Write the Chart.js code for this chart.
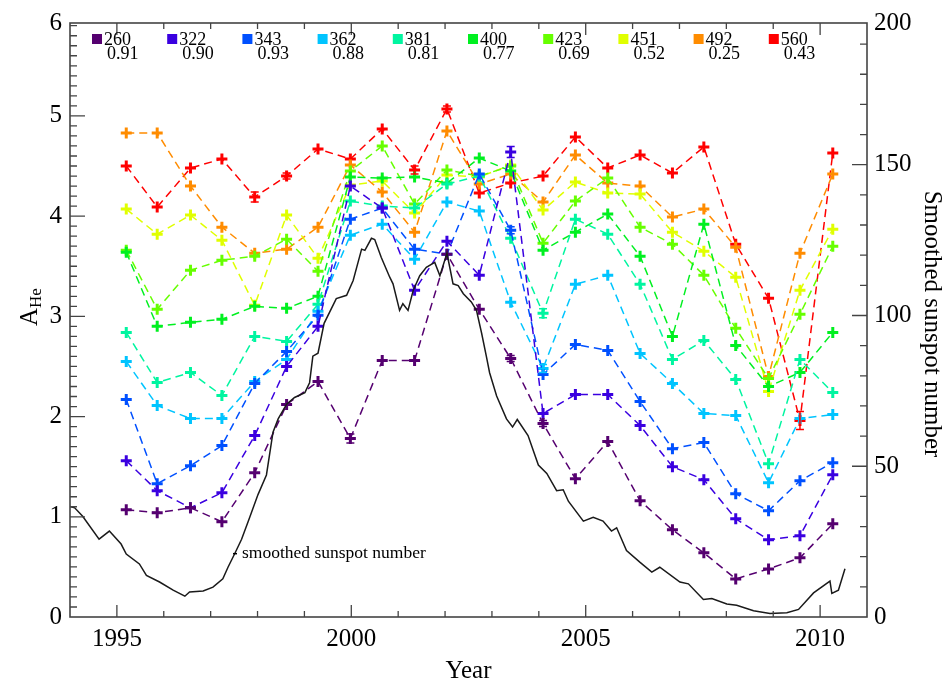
<!DOCTYPE html>
<html><head><meta charset="utf-8">
<script src="https://cdn.jsdelivr.net/npm/chart.js@4.4.1/dist/chart.umd.min.js"></script>
<style>html,body{margin:0;padding:0;background:#fff;}#wrap{width:945px;height:688px;position:relative;}</style>
</head><body><div id="wrap"><canvas id="c" width="945" height="688"></canvas></div>
<script>
// ---------- data ----------
const obsYears = [1995.20,1995.86,1996.57,1997.24,1997.94,1998.62,1999.29,1999.98,2000.66,2001.35,2002.04,2002.73,2003.40,2004.09,2004.78,2005.47,2006.16,2006.85,2007.52,2008.20,2008.90,2009.57,2010.27];
const wavelengths = ['260','322','343','362','381','400','423','451','492','560'];
const correlations = ['0.91','0.90','0.93','0.88','0.81','0.77','0.69','0.52','0.25','0.43'];
const seriesColors = ['#550070','#3a00e0','#0050ff','#00c4ff','#00f5a0','#00f020','#66ff00','#e0ff00','#ff8c00','#ff0000'];
const a260 = [1.07,1.04,1.09,0.95,1.44,2.12,2.35,1.78,2.56,2.56,3.62,3.07,2.58,1.93,1.38,1.75,1.16,0.87,0.64,0.38,0.48,0.59,0.93];
const a322 = [1.56,1.26,1.09,1.24,1.81,2.50,2.90,4.30,4.08,3.26,3.75,3.41,4.64,2.03,2.22,2.22,1.91,1.50,1.37,0.98,0.77,0.81,1.42];
const a343 = [2.17,1.33,1.51,1.71,2.33,2.65,3.01,3.97,4.08,3.67,3.62,4.42,3.86,2.42,2.72,2.66,2.15,1.68,1.74,1.23,1.06,1.36,1.54];
const a362 = [2.55,2.11,1.98,1.98,2.35,2.57,3.05,3.81,3.92,3.57,4.14,4.05,3.14,2.48,3.32,3.41,2.63,2.33,2.03,2.01,1.34,1.98,2.02];
const a381 = [2.84,2.34,2.44,2.21,2.80,2.75,3.12,4.15,4.10,4.08,4.32,4.40,3.78,3.03,3.97,3.82,3.32,2.57,2.76,2.37,1.53,2.57,2.24];
const a400 = [3.64,2.90,2.94,2.97,3.10,3.08,3.20,4.39,4.38,4.39,4.33,4.58,4.45,3.66,3.84,4.02,3.60,2.80,3.92,2.71,2.30,2.44,2.84];
const a423 = [3.66,3.07,3.46,3.56,3.60,3.77,3.45,4.45,4.70,4.12,4.46,4.40,4.50,3.73,4.15,4.38,3.89,3.72,3.41,2.88,2.38,3.02,3.70];
const a451 = [4.07,3.82,4.01,3.76,3.11,4.01,3.58,4.31,4.35,4.03,4.41,4.39,4.51,4.06,4.34,4.23,4.22,3.84,3.65,3.39,2.25,3.26,3.87];
const a492 = [4.83,4.83,4.30,3.89,3.63,3.67,3.89,4.51,4.24,3.84,4.85,4.32,4.42,4.14,4.61,4.33,4.30,3.99,4.07,3.69,2.40,3.63,4.42];
const a560 = [4.50,4.09,4.48,4.57,4.19,4.40,4.67,4.57,4.87,4.46,5.07,4.23,4.33,4.40,4.79,4.48,4.61,4.43,4.69,3.72,3.18,1.96,4.63];
const seriesValues = [a260,a322,a343,a362,a381,a400,a423,a451,a492,a560];
// visible error bars: [series index, point index, half-length]
const errorBars = [[9,4,0.05],[9,5,0.03],[9,9,0.04],[9,10,0.03],[9,21,0.09],[1,12,0.055],[2,12,0.035],[4,13,0.045],[3,13,0.04],[0,7,0.045],[0,13,0.03],[0,12,0.03]];
const sunYears = [1994.00,1994.10,1994.27,1994.62,1994.84,1995.09,1995.20,1995.48,1995.63,1995.91,1996.20,1996.45,1996.55,1996.84,1997.05,1997.26,1997.37,1997.51,1997.66,1997.83,1998.01,1998.19,1998.33,1998.44,1998.62,1998.79,1999.01,1999.11,1999.18,1999.29,1999.42,1999.68,1999.90,2000.04,2000.22,2000.29,2000.43,2000.50,2000.64,2000.82,2000.89,2001.03,2001.10,2001.21,2001.32,2001.46,2001.60,2001.78,2001.89,2002.04,2002.10,2002.17,2002.28,2002.39,2002.56,2002.67,2002.78,2002.88,2002.95,2003.10,2003.31,2003.44,2003.54,2003.77,2003.99,2004.17,2004.38,2004.52,2004.63,2004.95,2005.16,2005.37,2005.55,2005.66,2005.87,2006.16,2006.41,2006.58,2007.01,2007.19,2007.51,2007.69,2008.01,2008.22,2008.58,2008.93,2009.29,2009.54,2009.86,2010.21,2010.25,2010.39,2010.53];
const sunNumbers = [36.7,36.2,33.4,25.8,28.5,24.2,20.9,17.6,13.8,11.6,8.9,6.9,8.3,8.6,9.9,12.7,16.5,20.9,25.8,32.9,40.6,47.1,61.3,65.7,70.6,72.8,74.4,77.7,86.5,87.5,97.4,105.6,106.7,111.6,122.0,121.6,125.6,125.2,119.2,112.7,110.5,101.7,103.9,101.7,108.3,113.2,116.0,117.6,113.2,120.6,116.0,110.5,109.9,107.2,104.5,101.7,94.1,86.5,81.0,73.3,65.7,63.0,65.5,60.2,50.4,47.6,41.9,42.2,38.4,31.8,33.1,31.8,28.5,29.6,22.0,18.1,14.9,16.5,11.6,11.0,5.8,6.1,4.3,3.9,2.1,1.2,1.4,2.5,8.0,11.9,7.8,8.9,16.0];
const sunAnnotation = {year: 1997.52, value: 21, text: 'smoothed sunspot number'};
const xTickValues = [1995,2000,2005,2010];
const xTickLabels = ['1995','2000','2005','2010'];
const leftTickValues = [0,1,2,3,4,5,5.927];
const leftTickLabels = ['0','1','2','3','4','5','6'];
const rightTickValues = [0,50,100,150,197];
const rightTickLabels = ['0','50','100','150','200'];

// ---------- drawing ----------
const SERIF = "'Liberation Serif','Times New Roman',serif";
const AXC = '#444';

const datasets = [{
  label: 'sunspot', yAxisID: 'y2',
  data: sunYears.map((x,i)=>({x, y: sunNumbers[i]})),
  borderColor: '#1a1a1a', borderWidth: 1.5, pointRadius: 0, tension: 0, fill: false
}];
seriesValues.forEach((arr, k) => {
  datasets.push({
    label: wavelengths[k], yAxisID: 'y',
    data: obsYears.map((x,i)=>({x, y: arr[i]})),
    borderColor: seriesColors[k], backgroundColor: seriesColors[k],
    borderWidth: 1.5, borderDash: [8,5],
    pointStyle: 'cross', pointRadius: 5.5, pointBorderWidth: 3,
    pointBorderColor: seriesColors[k], tension: 0, fill: false
  });
});

const framePlugin = {
  id: 'frame',
  afterDatasetsDraw(chart) {
    const {ctx, chartArea: a, scales} = chart;
    ctx.save();
    errorBars.forEach(([si, pi, e]) => {
      const v = seriesValues[si][pi];
      const x = scales.x.getPixelForValue(obsYears[pi]);
      const y1 = scales.y.getPixelForValue(v + e), y2 = scales.y.getPixelForValue(v - e);
      ctx.strokeStyle = seriesColors[si]; ctx.lineWidth = 1.5;
      ctx.beginPath();
      ctx.moveTo(x, y1); ctx.lineTo(x, y2);
      ctx.moveTo(x-4, y1); ctx.lineTo(x+4, y1);
      ctx.moveTo(x-4, y2); ctx.lineTo(x+4, y2);
      ctx.stroke();
    });
    ctx.strokeStyle = AXC; ctx.lineWidth = 1.6;
    ctx.strokeRect(a.left, a.top, a.right - a.left, a.bottom - a.top);
    ctx.lineWidth = 1.3;
    ctx.beginPath();
    for (let k = 1; k < 60; k++) {
      const y = scales.y.getPixelForValue(k/10);
      if (y < a.top + 1) continue;
      const len = k % 10 === 0 ? 15 : 7;
      ctx.moveTo(a.left, y); ctx.lineTo(a.left + len, y);
    }
    for (let k = 1; k < 20; k++) {
      const y = scales.y2.getPixelForValue(k*10);
      if (y < a.top + 1) continue;
      const len = k % 5 === 0 ? 15 : 7;
      ctx.moveTo(a.right, y); ctx.lineTo(a.right - len, y);
    }
    for (let yr = 1995; yr <= 2010; yr++) {
      const x = scales.x.getPixelForValue(yr);
      const len = yr % 5 === 0 ? 12 : 6;
      ctx.moveTo(x, a.bottom); ctx.lineTo(x, a.bottom - len);
      ctx.moveTo(x, a.top); ctx.lineTo(x, a.top + len);
    }
    ctx.stroke();
    // legend
    ctx.textBaseline = 'alphabetic';
    ctx.font = '18px ' + SERIF;
    for (let i = 0; i < wavelengths.length; i++) {
      const x0 = 92 + i * 75.2;
      ctx.fillStyle = seriesColors[i];
      ctx.fillRect(x0, 34, 10, 10);
      ctx.fillStyle = '#000';
      ctx.textAlign = 'left';
      ctx.fillText(wavelengths[i], x0 + 12, 45);
      ctx.fillText(correlations[i], x0 + 15, 59);
    }
    // sunspot annotation
    const ax = scales.x.getPixelForValue(sunAnnotation.year);
    const ay = scales.y2.getPixelForValue(sunAnnotation.value);
    ctx.strokeStyle = '#000'; ctx.lineWidth = 1.5;
    ctx.beginPath(); ctx.moveTo(ax - 2, ay); ctx.lineTo(ax + 2, ay); ctx.stroke();
    ctx.font = '17.5px ' + SERIF;
    ctx.textBaseline = 'middle';
    ctx.fillText(sunAnnotation.text, ax + 7, ay);
    // axis titles
    ctx.font = '25px ' + SERIF;
    ctx.save();
    ctx.translate(932, (a.top + a.bottom) / 2 + 4);
    ctx.rotate(Math.PI / 2);
    ctx.textAlign = 'center'; ctx.textBaseline = 'middle';
    ctx.fillText('Smoothed sunspot number', 0, 0);
    ctx.restore();
    ctx.save();
    ctx.translate(30, 312);
    ctx.rotate(-Math.PI / 2);
    ctx.textAlign = 'left'; ctx.textBaseline = 'middle';
    ctx.font = '25px ' + SERIF;
    const wA = ctx.measureText('A').width;
    ctx.fillText('A', -14, 0);
    ctx.font = '17px ' + SERIF;
    ctx.fillText('He', -14 + wA, 7);
    ctx.restore();
    ctx.restore();
  }
};

new Chart(document.getElementById('c'), {
  type: 'line',
  data: { datasets },
  plugins: [framePlugin],
  options: {
    responsive: false, animation: false,
    layout: { padding: { top: 16, left: 0, right: 0, bottom: 0 } },
    plugins: { legend: { display: false }, tooltip: { enabled: false } },
    scales: {
      x: {
        type: 'linear', min: 1994, max: 2011,
        afterBuildTicks: s => { s.ticks = xTickValues.map(v => ({value: v})); },
        afterFit: s => { s.height = 71; },
        ticks: { callback: (v, i) => xTickLabels[i], font: { family: SERIF, size: 25 }, color: '#000', padding: 7, maxRotation: 0, autoSkip: false },
        grid: { display: false, drawTicks: false }, border: { display: false },
        title: { display: true, text: 'Year', font: { family: SERIF, size: 25 }, color: '#000', padding: { top: 0, bottom: 2 } }
      },
      y: {
        type: 'linear', position: 'left', min: 0, max: 5.927,
        afterBuildTicks: s => { s.ticks = leftTickValues.map(v => ({value: v})); },
        afterFit: s => { s.width = 70; },
        ticks: { callback: (v, i) => leftTickLabels[i], font: { family: SERIF, size: 25 }, color: '#000', padding: 8, autoSkip: false },
        grid: { display: false, drawTicks: false }, border: { display: false }
      },
      y2: {
        type: 'linear', position: 'right', min: 0, max: 197,
        afterBuildTicks: s => { s.ticks = rightTickValues.map(v => ({value: v})); },
        afterFit: s => { s.width = 78; },
        ticks: { callback: (v, i) => rightTickLabels[i], font: { family: SERIF, size: 25 }, color: '#000', padding: 7, autoSkip: false },
        grid: { display: false, drawTicks: false }, border: { display: false }
      }
    }
  }
});
</script></body></html>
